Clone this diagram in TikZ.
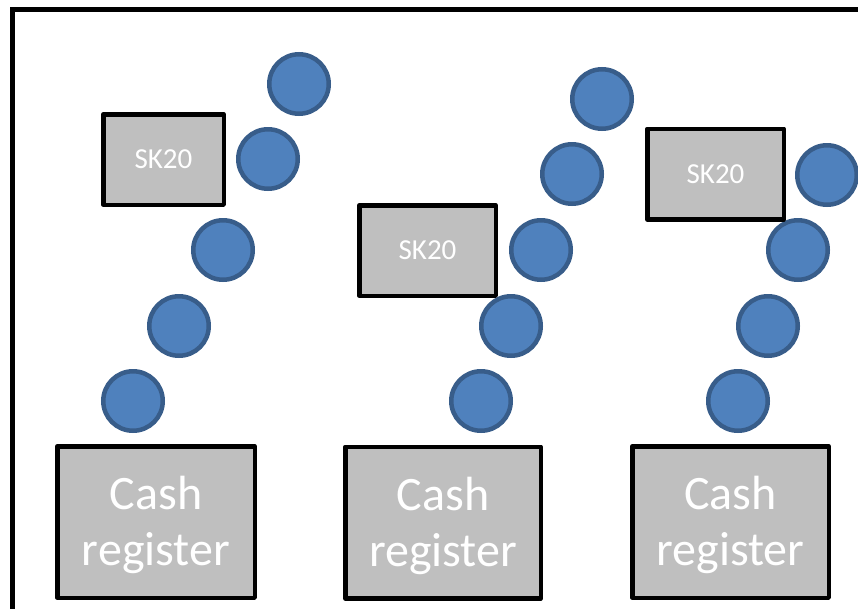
\documentclass[tikz,border=0pt]{standalone}
\usepackage{fontspec}
\setmainfont{Carlito}
\definecolor{cfill}{HTML}{4F81BD}
\definecolor{cline}{HTML}{385D8A}
\definecolor{boxgray}{HTML}{BFBFBF}
\tikzset{
  person/.style={circle, draw=cline, fill=cfill, line width=4.5pt, minimum size=59.5pt, inner sep=0pt},
  skbox/.style={rectangle, draw=black, fill=boxgray, line width=4.5pt, line join=round, minimum height=90.5pt, inner sep=0pt, text=white, font=\fontsize{29}{34}\selectfont},
  cashbox/.style={rectangle, draw=black, fill=boxgray, line width=4.5pt, line join=round, minimum height=151.5pt, inner sep=0pt},
  cashtext/.style={text=white, align=center, inner sep=0pt, font=\fontsize{48}{56}\selectfont},
  frameline/.style={draw=black, line width=4.5pt}
}
\begin{document}
\begin{tikzpicture}[x=1pt,y=-1pt]
\clip (0,0) rectangle (858,608);
\fill[white] (0,0) rectangle (858,608);
\draw[frameline] (12.5,9.5) rectangle (900,650);

% group 1
\node[person] (a1) at (299,84) {};
\node[person] (a2) at (268,159) {};
\node[person] (a3) at (223,250) {};
\node[person] (a4) at (179,326) {};
\node[person] (a5) at (133,401) {};
\node[skbox, minimum width=120.5pt] (s1) at (163.5,159.5) {SK20};
\node[cashbox, minimum width=197.5pt] (c1) at (156,522) {};
\node[cashtext] (t1) at ([yshift=-3pt]c1.center) {Cash\\register};

% group 2
\node[person] (b1) at (602,99) {};
\node[person] (b2) at (572,174) {};
\node[person] (b3) at (541,250) {};
\node[person] (b4) at (511,326) {};
\node[person] (b5) at (481,401) {};
\node[skbox, minimum width=136.5pt] (s2) at (427.5,250.5) {SK20};
\node[cashbox, minimum width=195.5pt] (c2) at (443,522.5) {};
\node[cashtext] (t2) at ([yshift=-3pt]c2.center) {Cash\\register};

% group 3
\node[person] (d1) at (827,175) {};
\node[person] (d2) at (798,250) {};
\node[person] (d3) at (768,326) {};
\node[person] (d4) at (738,401) {};
\node[skbox, minimum width=136.5pt] (s3) at (715.5,174) {SK20};
\node[cashbox, minimum width=196.5pt] (c3) at (730.5,522) {};
\node[cashtext] (t3) at ([yshift=-3pt]c3.center) {Cash\\register};
\end{tikzpicture}
\end{document}
